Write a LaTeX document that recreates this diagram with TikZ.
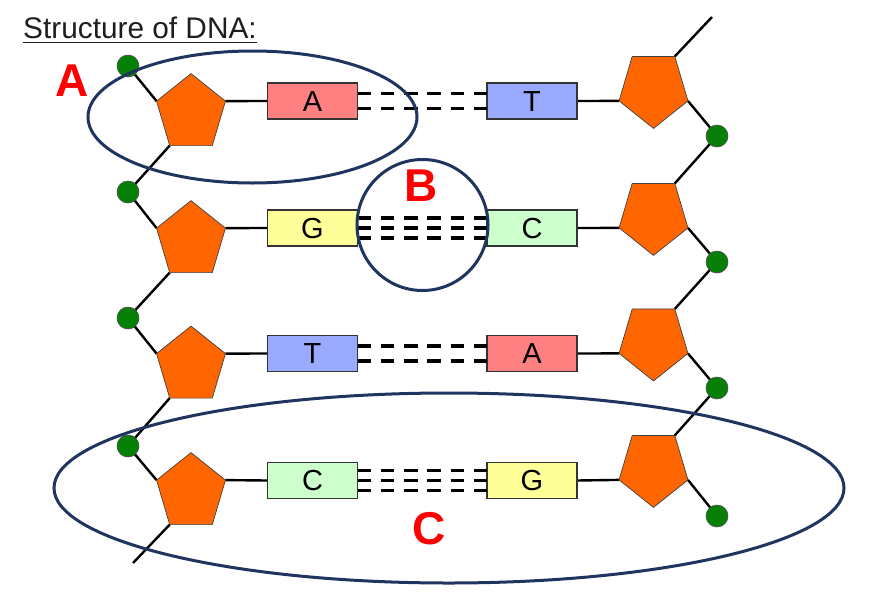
\documentclass[tikz,border=0pt]{standalone}
\usepackage{fontspec}
\setmainfont{Liberation Sans}
\usetikzlibrary{shapes.geometric,backgrounds}
\definecolor{sugarC}{RGB}{255,102,0}
\definecolor{phosC}{RGB}{8,128,8}
\definecolor{baseA}{RGB}{255,128,128}
\definecolor{baseT}{RGB}{153,170,255}
\definecolor{baseG}{RGB}{255,255,153}
\definecolor{baseC}{RGB}{204,255,204}
\definecolor{ringC}{RGB}{31,52,94}
\definecolor{titleC}{RGB}{30,30,30}
\tikzset{
  sugar/.style={regular polygon, regular polygon sides=5, fill=sugarC, draw=black!75,
    line width=0.7pt, minimum size=79.6pt, inner sep=0pt, outer sep=0pt},
  phos/.style={circle, fill=phosC, draw=black!70, line width=0.6pt, minimum size=22pt,
    inner sep=0pt, outer sep=0pt},
  basebox/.style={draw=black!80, line width=1.2pt, minimum width=90pt, minimum height=36pt,
    inner sep=0pt, outer sep=0pt, font=\fontsize{29}{29}\selectfont,
    text height=20.5pt, text depth=0pt},
  bb/.style={line width=2.4pt, black},
  hb/.style={line width=3.4pt, black, dash pattern=on 13.5pt off 9.8pt},
  ring/.style={draw=ringC, line width=3pt, inner sep=0pt, outer sep=0pt},
  lbl/.style={text=red, inner sep=0pt, font=\bfseries\fontsize{46}{46}\selectfont},
}
\newcommand\mysugarL[3]{\begin{scope}[shift={(#2,#3)}]\node[sugar,xscale=0.91,transform shape] (#1) at (0,0) {};\end{scope}}
\newcommand\mysugarR[3]{\begin{scope}[shift={(#2,#3)}]\node[sugar,shape border rotate=180,xscale=0.91,transform shape] (#1) at (0,0) {};\end{scope}}
\begin{document}
\begin{tikzpicture}[x=1pt,y=-1pt]
\useasboundingbox (0,0) rectangle (880,592);

% title
\node[anchor=base west, inner sep=0pt, text=titleC, font=\fontsize{29.8}{29.8}\selectfont] (title) at (23,38) {Structure of DNA:};
\draw[titleC, line width=1.4pt] ([yshift=-4.5pt]title.base west) -- ([yshift=-4.5pt]title.base east);

% sugars
\mysugarL{sL1}{191}{113.4}
\mysugarL{sL2}{191}{240.4}
\mysugarL{sL3}{191}{365.9}
\mysugarL{sL4}{191}{492.4}
\mysugarR{sR1}{653.5}{88.6}
\mysugarR{sR2}{653.5}{215.6}
\mysugarR{sR3}{653.5}{341.1}
\mysugarR{sR4}{653.5}{467.6}

% phosphates
\node[phos] (pL1) at (128,66) {};
\node[phos] (pL2) at (128,192) {};
\node[phos] (pL3) at (128,318) {};
\node[phos] (pL4) at (128,446) {};
\node[phos] (pR1) at (717,136) {};
\node[phos] (pR2) at (717,262) {};
\node[phos] (pR3) at (717,388) {};
\node[phos] (pR4) at (717,516) {};
\coordinate (endL) at (133,563);
\coordinate (endR) at (712,17);

% bases
\node[basebox, fill=baseA] (bL1) at (312.5,101) {A};
\node[basebox, fill=baseG] (bL2) at (312.5,228) {G};
\node[basebox, fill=baseT] (bL3) at (312.5,353.5) {T};
\node[basebox, fill=baseC] (bL4) at (312.5,480.5) {C};
\node[basebox, fill=baseT] (bR1) at (532,101) {T};
\node[basebox, fill=baseC] (bR2) at (532,228) {C};
\node[basebox, fill=baseA] (bR3) at (532,353.5) {A};
\node[basebox, fill=baseG] (bR4) at (532,480.5) {G};

\begin{scope}[on background layer]
  % left backbone
  \draw[bb] (pL1.center) -- (sL1.corner 2);
  \draw[bb] (sL1.corner 3) -- (pL2.center) -- (sL2.corner 2);
  \draw[bb] (sL2.corner 3) -- (pL3.center) -- (sL3.corner 2);
  \draw[bb] (sL3.corner 3) -- (pL4.center) -- (sL4.corner 2);
  \draw[bb] (sL4.corner 3) -- (endL);
  % right backbone
  \draw[bb] (endR) -- (sR1.corner 3);
  \draw[bb] (sR1.corner 2) -- (pR1.center) -- (sR2.corner 3);
  \draw[bb] (sR2.corner 2) -- (pR2.center) -- (sR3.corner 3);
  \draw[bb] (sR3.corner 2) -- (pR3.center) -- (sR4.corner 3);
  \draw[bb] (sR4.corner 2) -- (pR4.center);
  % sugar-base links
  \foreach \i in {1,2,3,4} {
    \draw[bb] (sL\i.corner 5) -- (bL\i.west);
    \draw[bb] (bR\i.east) -- (sR\i.corner 5);
  }
\end{scope}

% hydrogen bonds
\draw[hb] ([yshift=7.5pt]bL1.east) -- ([yshift=7.5pt]bR1.west);
\draw[hb] ([yshift=-7.5pt]bL1.east) -- ([yshift=-7.5pt]bR1.west);
\draw[hb] ([yshift=10pt]bL2.east) -- ([yshift=10pt]bR2.west);
\draw[hb] (bL2.east) -- (bR2.west);
\draw[hb] ([yshift=-10pt]bL2.east) -- ([yshift=-10pt]bR2.west);
\draw[hb] ([yshift=7.5pt]bL3.east) -- ([yshift=7.5pt]bR3.west);
\draw[hb] ([yshift=-7.5pt]bL3.east) -- ([yshift=-7.5pt]bR3.west);
\draw[hb] ([yshift=10pt]bL4.east) -- ([yshift=10pt]bR4.west);
\draw[hb] (bL4.east) -- (bR4.west);
\draw[hb] ([yshift=-10pt]bL4.east) -- ([yshift=-10pt]bR4.west);

% rings
\node[ring, ellipse, minimum width=329pt, minimum height=132pt] (ringA) at (252.5,117) {};
\node[ring, circle, minimum size=131pt] (ringB) at (422.5,225) {};
\node[ring, ellipse, minimum width=790pt, minimum height=190pt] (ringC) at (449,488) {};

% labels
\node[lbl] (labA) at (72.5,81) {A};
\node[lbl] (labB) at (421.5,186) {B};
\node[lbl] (labC) at (429.5,529) {C};
\end{tikzpicture}
\end{document}
